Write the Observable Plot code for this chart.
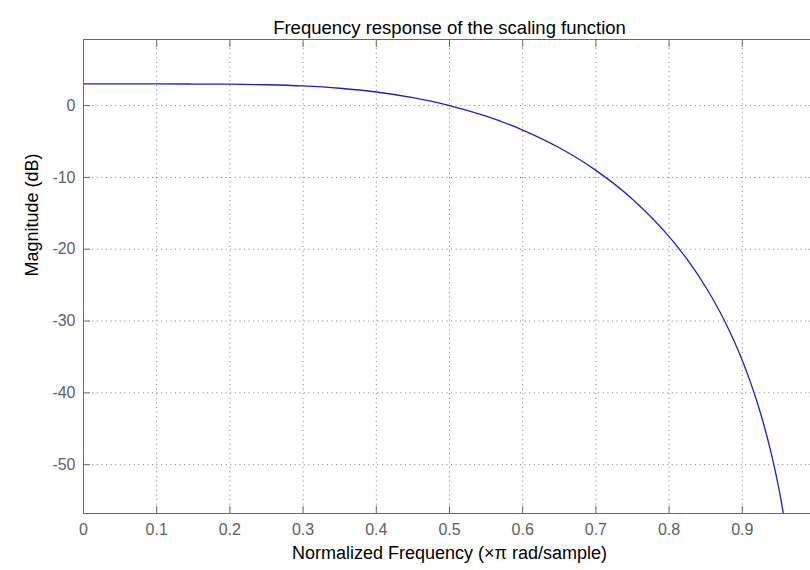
<!DOCTYPE html>
<html>
<head>
<meta charset="utf-8">
<script src="https://cdn.jsdelivr.net/npm/d3@7"></script>
<script src="https://cdn.jsdelivr.net/npm/@observablehq/plot@0.6"></script>
<style>
  html, body { margin: 0; padding: 0; background: #fff; overflow: hidden; width: 810px; height: 570px; }
  svg { display: block; max-width: none !important; }
</style>
</head>
<body>
<div id="chart"></div>
<script>
const titleText = "Frequency response of the scaling function";
const xLabel = "Normalized Frequency (\u00d7\u03c0 rad/sample)";
const yLabel = "Magnitude (dB)";

const freq = [0, 0.05, 0.1, 0.15, 0.2, 0.25, 0.3, 0.35, 0.4, 0.45, 0.5, 0.55, 0.6, 0.65, 0.7, 0.75, 0.8, 0.825, 0.85, 0.875, 0.9, 0.91, 0.92, 0.93, 0.94, 0.95, 0.96];
const magDb = [3.01, 3.01, 3.01, 3.00, 2.98, 2.90, 2.73, 2.41, 1.89, 1.10, 0.00, -1.48, -3.41, -5.88, -9.02, -13.03, -18.24, -21.46, -25.26, -29.83, -35.49, -38.19, -41.21, -44.65, -48.63, -53.35, -59.14];

const xTicks = [0, 0.1, 0.2, 0.3, 0.4, 0.5, 0.6, 0.7, 0.8, 0.9, 1];
const xLabelTicks = [0, 0.1, 0.2, 0.3, 0.4, 0.5, 0.6, 0.7, 0.8, 0.9];
const xTickLabels = ["0", "0.1", "0.2", "0.3", "0.4", "0.5", "0.6", "0.7", "0.8", "0.9"];
const yTicks = [-50, -40, -30, -20, -10, 0];
const yTickLabels = ["-50", "-40", "-30", "-20", "-10", "0"];
const xDomain = [0, 1];
const yDomain = [-56.8, 9.2];

const data = freq.map((f, i) => ({f, m: magDb[i]}));

const axisColor = "#6a6a6a";
const tickTextColor = "#606060";
const font = "'Liberation Sans', Arial, sans-serif";

const chart = Plot.plot({
  width: 840,
  height: 570,
  marginLeft: 83,
  marginRight: 25,
  marginTop: 39,
  marginBottom: 57,
  style: {fontFamily: font, background: "#fff", maxWidth: "none"},
  x: {domain: xDomain, ticks: xTicks},
  y: {domain: yDomain, ticks: yTicks},
  marks: [
    Plot.gridX(xTicks, {stroke: "#777", strokeOpacity: 1, strokeDasharray: "1,3.6"}),
    Plot.gridY(yTicks, {stroke: "#777", strokeOpacity: 1, strokeDasharray: "1,3.6"}),
    Plot.line(data, {x: "f", y: "m", stroke: "#2020c0", strokeWidth: 1.3, curve: "monotone-x", clip: true}),
    Plot.frame({stroke: axisColor}),
    // inward tick marks
    Plot.axisX(xTicks, {anchor: "bottom", tickSize: -7, text: null, stroke: axisColor, label: null}),
    Plot.axisX(xTicks, {anchor: "top", tickSize: -7, text: null, stroke: axisColor, label: null}),
    Plot.axisY(yTicks, {anchor: "left", tickSize: -7, text: null, stroke: axisColor, label: null}),
    Plot.axisY(yTicks, {anchor: "right", tickSize: -7, text: null, stroke: axisColor, label: null}),
    // tick labels
    Plot.axisX(xLabelTicks, {anchor: "bottom", tickSize: 0, tickPadding: 10, fontSize: 16, fill: tickTextColor, label: null,
      tickFormat: d => xTickLabels[xLabelTicks.indexOf(d)]}),
    Plot.axisY(yTicks, {anchor: "left", tickSize: 0, tickPadding: 8, fontSize: 16, fill: tickTextColor, label: null,
      tickFormat: d => yTickLabels[yTicks.indexOf(d)]}),
    // title and axis labels
    Plot.text([titleText], {frameAnchor: "top", dy: -19, fontSize: 18.5, fill: "#000"}),
    Plot.text([xLabel], {frameAnchor: "bottom", dy: 45, fontSize: 18, fill: "#000"}),
    Plot.text([yLabel], {frameAnchor: "left", dx: -51, rotate: -90, fontSize: 18, fill: "#000"})
  ]
});

document.getElementById("chart").appendChild(chart);
</script>
</body>
</html>
